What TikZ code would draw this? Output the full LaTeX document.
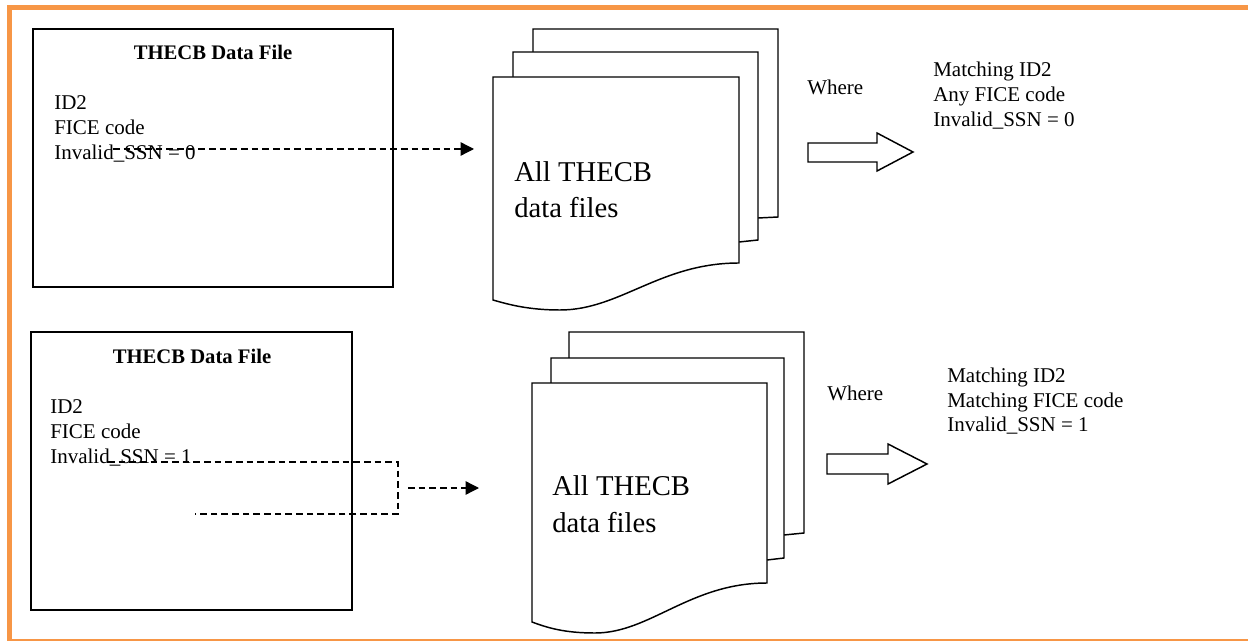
\documentclass[tikz,border=0pt]{standalone}
\usepackage{fontspec}
\setmainfont{Liberation Serif}
\usetikzlibrary{arrows.meta}
\definecolor{frameorange}{HTML}{F79646}

\begin{document}
\begin{tikzpicture}[x=0.75pt, y=-0.75pt,
  font={\fontsize{15.75pt}{18.75pt}\selectfont},
  txt/.style={anchor=base west, inner sep=0},
  bigtxt/.style={txt, font={\fontsize{21.5pt}{27pt}\selectfont}},
  boxline/.style={line width=1.3pt},
  pageline/.style={line width=1.1pt, fill=white},
  dashline/.style={line width=1pt, dash pattern=on 5pt off 3pt},
  dasharrow/.style={dashline, arrows={-{Triangle}[width=10pt,length=10pt]}},
  fatarrow/.style={line width=1.1pt}
  ]
  \useasboundingbox (0,0) rectangle (1248,641);

  % orange frame
  \draw[frameorange, line width=3.75pt] (1260,7.5) -- (9.5,7.5) -- (9.5,650);
  \draw[frameorange, line width=1.5pt] (8,640) -- (1260,640);

  % upper row
  \draw[boxline] (33,29) rectangle (393,287);
  \node[anchor=base, inner sep=0, font={\fontsize{15.5pt}{18pt}\selectfont\bfseries}] (titleA) at (213,60) {THECB Data File};
  \node[txt] (idA) at (54,110) {ID2};
  \node[txt] (ficeA) at (54,135) {FICE code};
  \node[txt] (ssnA) at (54,160) {Invalid\_SSN = 0};

  \draw[pageline] (533,52) -- (533,29) -- (778,29) -- (778,217) -- (758,218);
  \draw[pageline] (513,77) -- (513,52) -- (758,52) -- (758,240) -- (739,242);
  \draw[pageline] (493,77) -- (739,77) -- (739,263)
    .. controls (660,263) and (620,310) .. (560,310)
    .. controls (530,310) and (510,305) .. (493,300) -- cycle;
  \node[bigtxt] (allA) at (514,182) {All THECB};
  \node[bigtxt] (dataA) at (514,218) {data files};

  \coordinate (startA) at (113,149);
  \coordinate (tipA) at (474,149);
  \draw[dasharrow] (startA) -- (tipA);

  \node[txt] (whereA) at (807,95) {Where};
  \draw[fatarrow] (808,143) -- (877,143) -- (877,133) -- (913,152) -- (877,171) -- (877,162) -- (808,162) -- cycle;
  \node[txt] (matchA) at (933,77) {Matching ID2};
  \node[txt] (anyA) at (933,102) {Any FICE code};
  \node[txt] (resA) at (933,127) {Invalid\_SSN = 0};

  % lower row
  \draw[boxline] (31,332) rectangle (352,610);
  \node[anchor=base, inner sep=0, font={\fontsize{15.5pt}{18pt}\selectfont\bfseries}] (titleB) at (192,363) {THECB Data File};
  \node[txt] (idB) at (50,413) {ID2};
  \node[txt] (ficeB) at (50,438) {FICE code};
  \node[txt] (ssnB) at (50,463) {Invalid\_SSN = 1};

  \draw[pageline] (569,358) -- (569,332) -- (804,332) -- (804,533) -- (784,535);
  \draw[pageline] (551,383) -- (551,358) -- (784,358) -- (784,558) -- (767,560);
  \draw[pageline] (532,383) -- (767,383) -- (767,583)
    .. controls (690,583) and (650,633) .. (595,633)
    .. controls (565,633) and (548,628) .. (532,622) -- cycle;
  \node[bigtxt] (allB) at (552,495) {All THECB};
  \node[bigtxt] (dataB) at (552,532) {data files};

  \coordinate (startB) at (108,462);
  \coordinate (cornerB) at (398,488);
  \coordinate (endB) at (195,514);
  \coordinate (outB) at (408,488);
  \coordinate (tipB) at (479,488);
  \draw[dashline] (startB) -| (cornerB) |- (endB);
  \draw[dasharrow] (outB) -- (tipB);

  \node[txt] (whereB) at (827,400) {Where};
  \draw[fatarrow] (827,454) -- (888,454) -- (888,444) -- (927,464) -- (888,484) -- (888,474) -- (827,474) -- cycle;
  \node[txt] (matchB) at (947,382) {Matching ID2};
  \node[txt] (anyB) at (947,407) {Matching FICE code};
  \node[txt] (resB) at (947,431) {Invalid\_SSN = 1};
\end{tikzpicture}
\end{document}
